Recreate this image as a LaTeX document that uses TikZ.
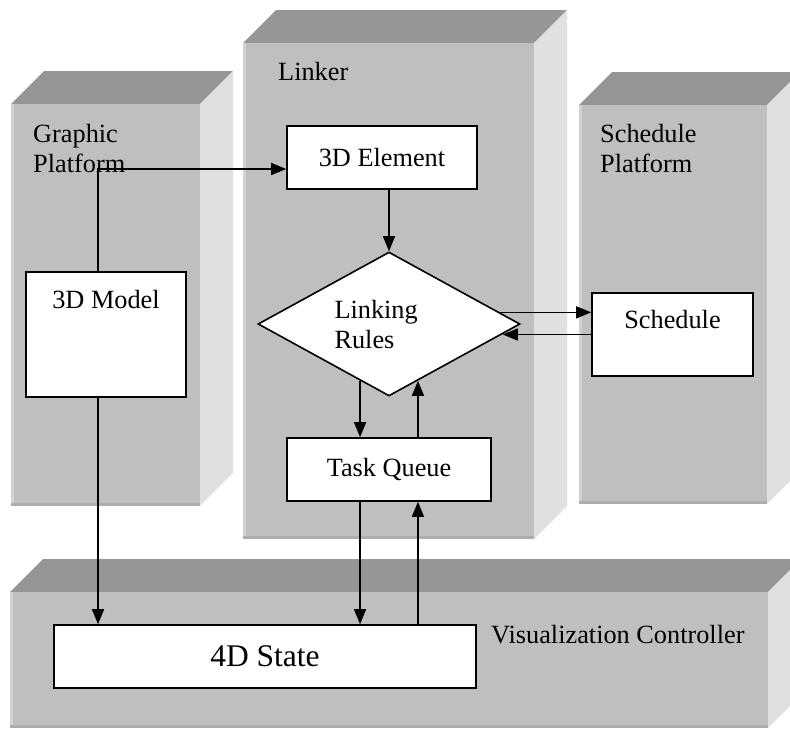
\documentclass[tikz,border=0pt]{standalone}
\usepackage{fontspec}
\setmainfont{Liberation Serif}
\usetikzlibrary{arrows.meta,shapes.geometric}

\definecolor{slabfront}{gray}{0.75}
\definecolor{slabtop}{gray}{0.59}
\definecolor{slabside}{gray}{0.88}
\definecolor{slabedge}{gray}{0.68}

\tikzset{
  bigtext/.style={font=\fontsize{26.3}{30}\selectfont},
  flow/.style={-{Triangle[length=15pt,width=12pt]},line width=1.4pt},
}

% front face: left, top, width, height (pixels from the top left corner)
\newcommand{\drawslab}[4]{%
  \fill[slabtop] (#1,#2) -- ++(33,-33) -- ++(#3,0) -- ++(-33,33) -- cycle;
  \fill[slabside] ({#1+#3},#2) -- ++(33,-33) -- ++(0,#4) -- ++(-33,33) -- cycle;
  \fill[slabfront] (#1,#2) rectangle ++(#3,#4);
  \draw[white!30!slabfront,line width=3pt] ({#1+1.5},#2) -- ++(0,#4);
  \draw[slabedge,line width=3pt] (#1,{#2+#4-1.5}) -- ++(#3,0);
}

\begin{document}
\begin{tikzpicture}[x=1pt,y=-1pt]

      \useasboundingbox (0,0) rectangle (790,729);
      \clip (0,0) rectangle (790,729);

      \drawslab{11}{104}{189}{402}
      \drawslab{243}{43}{291}{496}
      \drawslab{579}{105}{188}{399}
      \drawslab{10}{592}{758}{136}

      \begin{scope}[every node/.style={bigtext,align=left,inner sep=0}]
        \node[anchor=north west] (graphic) at (33,124)  {Graphic\\Platform};
        \node[anchor=base west]  (linker)  at (278,80)  {Linker};
        \node[anchor=north west] (platform) at (600,124) {Schedule\\Platform};
        \node[anchor=base west]  (control) at (491,643) {Visualization Controller};
      \end{scope}

      \begin{scope}[every node/.style={draw,fill=white,line width=1.6pt,inner sep=4pt,bigtext}]
        \node[minimum width=160pt,minimum height=125pt,text height=32pt,text depth=85pt]
          (model) at (106,334.5) {3D Model};
        \node[minimum width=190pt,minimum height=63pt] (element) at (382,157.5) {3D Element};
        \node[diamond,aspect=1.8,minimum width=262pt,minimum height=144pt,
          text width=109pt,align=left] (rules) at (389,324) {Linking\\Rules};
        \node[minimum width=161pt,minimum height=83pt,text height=31pt,text depth=44pt]
          (sched) at (672.5,334.5) {Schedule};
        \node[minimum width=204pt,minimum height=63pt] (queue) at (389,469.5) {Task Queue};
        \node[minimum width=422pt,minimum height=63pt,font=\fontsize{31.5}{36}\selectfont]
          (state) at (265,656.5) {4D State};
      \end{scope}

      \draw[flow] ([xshift=-8pt]model.north) |- ([yshift=-11.5pt]element.west);
      \draw[flow] (element.south -| rules.north) -- (rules.north);
      \draw[flow] (rules.6) -- (rules.6 -| sched.west);
      \draw[flow] (sched.west) -- (sched.west -| rules.-5);
      \draw[flow] (rules.-117) -- (rules.-117 |- queue.north);
      \draw[flow] (rules.-63 |- queue.north) -- (rules.-63);
      \draw[flow] (rules.-117 |- queue.south) -- (rules.-117 |- state.north);
      \draw[flow] (rules.-63 |- state.north) -- (rules.-63 |- queue.south);
      \draw[flow] ([xshift=-8pt]model.south) -- ([xshift=-8pt]model.south |- state.north);

    \end{tikzpicture}
\end{document}
